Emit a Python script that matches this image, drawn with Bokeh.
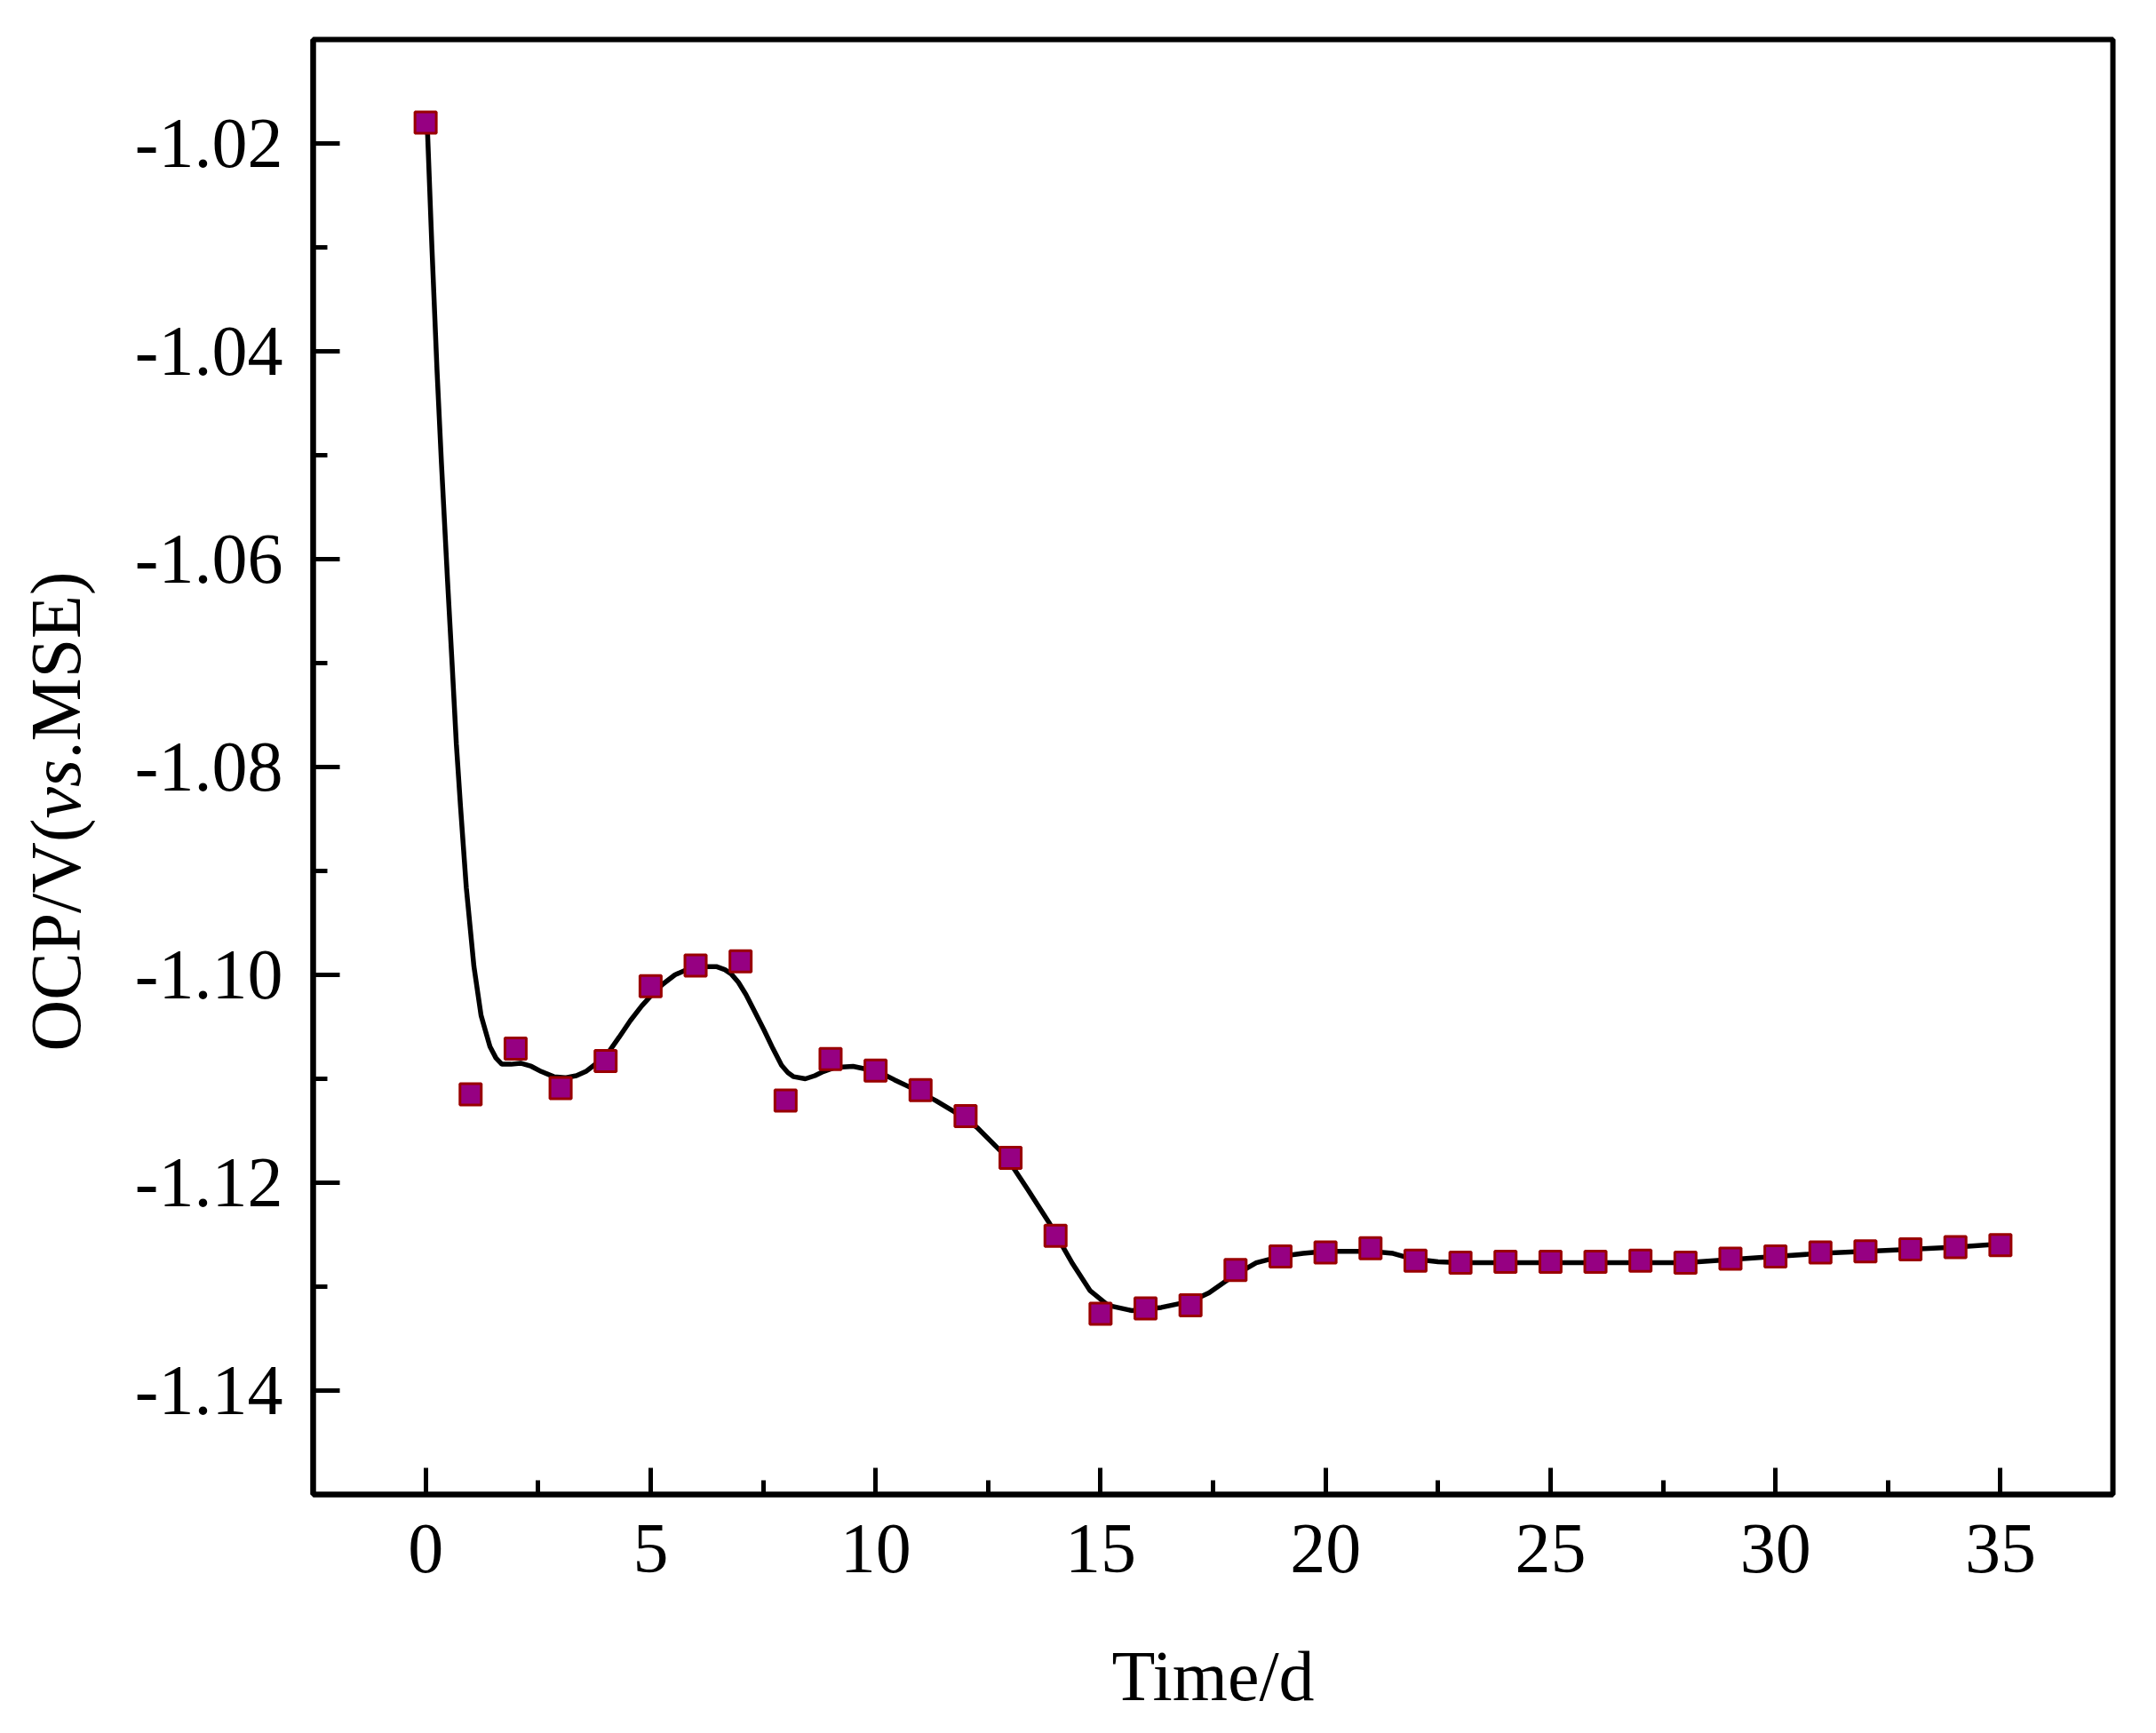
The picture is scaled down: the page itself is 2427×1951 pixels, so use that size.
import math
from bokeh.plotting import figure
from bokeh.layouts import row
from bokeh.models import Range1d, SingleIntervalTicker, NumeralTickFormatter
from bokeh.core.properties import value
from bokeh.embed import file_html
from bokeh.resources import INLINE

# ---- data ----
days = list(range(0, 36))
ocp = [-1.0180, -1.1115, -1.1071, -1.1109, -1.1083, -1.1011, -1.0991, -1.0987,
       -1.1121, -1.1081, -1.1092, -1.1111, -1.1136, -1.1176, -1.1251, -1.1326,
       -1.1321, -1.1318, -1.1284, -1.1271, -1.1267, -1.1263, -1.1275, -1.1277,
       -1.1276, -1.1276, -1.1276, -1.1275, -1.1277, -1.1273, -1.1271, -1.1267,
       -1.1266, -1.1264, -1.1262, -1.1260]

# smoothed curve
curve_x = [0.00, 0.045, 0.138, 0.253, 0.352, 0.485, 0.590, 0.683, 0.777, 0.904,
           1.074, 1.232, 1.331, 1.430, 1.563, 1.695, 1.90, 2.11, 2.35, 2.57, 2.85,
           3.10, 3.35, 3.56, 3.80, 4.09, 4.30, 4.55, 4.80, 5.01, 5.27, 5.54, 5.80,
           6.07, 6.46, 6.65, 6.79, 6.95, 7.12, 7.32, 7.52, 7.72, 7.91, 8.05, 8.18,
           8.44, 8.65, 8.84, 9.10, 9.50, 9.83, 10.10, 10.42, 10.90, 11.34, 11.80,
           12.26, 12.79, 13.10, 13.39, 13.85, 14.38, 14.77, 15.17, 15.69, 16.35,
           17.01, 17.41, 17.94, 18.46, 18.99, 19.50, 20.00, 20.50, 21.00, 21.50,
           21.90, 22.50, 23.00, 24.00, 25.00, 26.00, 27.00, 28.00, 29.00, 30.00,
           31.00, 32.00, 33.00, 34.00, 35.00]
curve_y = [-1.0180, -1.0192, -1.0298, -1.0418, -1.0508, -1.0619, -1.0702, -1.0778,
           -1.0839, -1.0916, -1.0992, -1.1039, -1.1054, -1.1069, -1.1080, -1.1086,
           -1.1086, -1.1085, -1.1088, -1.1093, -1.1098, -1.1099, -1.1097, -1.1093,
           -1.1085, -1.1073, -1.1060, -1.1044, -1.1030, -1.1020, -1.1009, -1.1000,
           -1.0995, -1.0992, -1.0992, -1.0995, -1.0999, -1.1007, -1.1019, -1.1036,
           -1.1053, -1.1071, -1.1087, -1.1094, -1.1098, -1.1100, -1.1097, -1.1093,
           -1.1089, -1.1088, -1.1091, -1.1094, -1.1101, -1.1111, -1.1121, -1.1133,
           -1.1147, -1.1170, -1.1188, -1.1207, -1.1238, -1.1278, -1.1304, -1.1318,
           -1.1323, -1.1320, -1.1314, -1.1306, -1.1290, -1.1277, -1.1271, -1.1268,
           -1.1266, -1.1266, -1.1266, -1.1268, -1.1273, -1.1276, -1.1277, -1.1277,
           -1.1277, -1.1277, -1.1277, -1.1277, -1.1274, -1.1271, -1.1268, -1.1266,
           -1.1264, -1.1262, -1.1259]

x_label = "Time/d"
y_label_parts = ["OCP/V(", "vs", ".MSE)"]
y_label_styles = ["normal", "italic", "normal"]

FONT = "Liberation Serif"
FS = "80px"

X0, X1 = -2.5, 37.5
Y0, Y1 = -1.15, -1.01
FW, FH = 2026, 1638
LW = 130          # width of the strip holding the y-axis title
QH = 1900         # height of that strip

p = figure(frame_width=FW, frame_height=FH,
           min_border_left=352 - LW, min_border_right=30, min_border_top=44,
           min_border_bottom=230,
           x_range=Range1d(X0, X1), y_range=Range1d(Y0, Y1),
           output_backend="svg", toolbar_location=None)

p.background_fill_color = "white"
p.border_fill_color = "white"
p.outline_line_color = "black"
p.outline_line_width = 6
p.xgrid.visible = False
p.ygrid.visible = False

p.xaxis.ticker = SingleIntervalTicker(interval=5, num_minor_ticks=2)
p.yaxis.ticker = SingleIntervalTicker(interval=0.02, num_minor_ticks=2)
p.yaxis.formatter = NumeralTickFormatter(format="0.00")

for ax in (p.xaxis[0], p.yaxis[0]):
    ax.axis_line_width = 6
    ax.axis_line_color = "black"
    ax.major_tick_in = 30
    ax.major_tick_out = 0
    ax.minor_tick_in = 16
    ax.minor_tick_out = 0
    ax.major_tick_line_width = 5
    ax.minor_tick_line_width = 5
    ax.major_tick_line_color = "black"
    ax.minor_tick_line_color = "black"
    ax.major_label_text_font = FONT
    ax.major_label_text_font_size = FS
    ax.major_label_text_color = "black"

p.xaxis.major_label_standoff = 34
p.yaxis.major_label_standoff = 34

p.xaxis.axis_label = x_label
p.xaxis.axis_label_text_font = FONT
p.xaxis.axis_label_text_font_size = FS
p.xaxis.axis_label_text_font_style = "normal"
p.xaxis.axis_label_text_color = "black"
p.xaxis.axis_label_standoff = 70

p.line(curve_x, curve_y, line_color="black", line_width=5.5)
p.scatter(days, ocp, marker="square", size=24, fill_color="#960082",
          line_color="#990000", line_width=3)

# ---- strip on the left carrying the y-axis title ("vs" in italics) ----
q = figure(frame_width=LW, frame_height=QH, title=None,
           x_range=Range1d(0, LW), y_range=Range1d(QH, 0),
           x_axis_type=None, y_axis_type=None,
           min_border_left=0, min_border_right=0, min_border_top=0, min_border_bottom=0,
           output_backend="svg", toolbar_location=None)
q.outline_line_color = None
q.background_fill_color = "white"
q.border_fill_color = "white"
q.xgrid.visible = False
q.ygrid.visible = False

piece_offsets = [0, -262, -329]   # pixel advance of each piece along the title
for txt, off, st in zip(y_label_parts, piece_offsets, y_label_styles):
    q.text(x=[62], y=[1139], text=[txt], angle=math.pi / 2, y_offset=off,
           text_align="left", text_baseline="alphabetic",
           text_font=value(FONT), text_font_size=value(FS),
           text_font_style=st, text_color="black")

layout = row(q, p, spacing=0)
open("out.html", "w").write(file_html(layout, INLINE))
